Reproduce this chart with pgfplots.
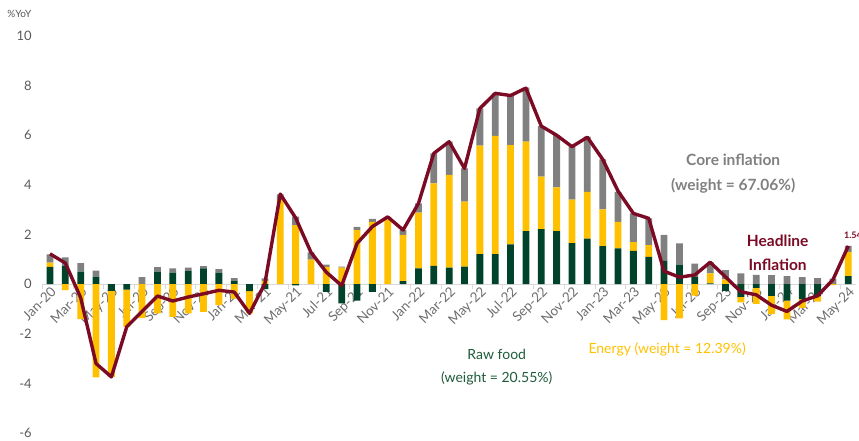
\documentclass[border=0pt]{standalone}
\usepackage{pgfplots}
\pgfplotsset{compat=1.18}
\usepackage{pgfplotstable}
\usepackage{fontspec}
\setmainfont{Lato}
\definecolor{rawc}{HTML}{00432A}
\definecolor{rawt}{HTML}{1E5B3A}
\definecolor{enc}{HTML}{FFC000}
\definecolor{corec}{HTML}{808080}
\definecolor{headc}{HTML}{7B0A24}
\definecolor{txtc}{HTML}{595959}
\definecolor{xtxtc}{HTML}{6E6E6E}
\definecolor{axc}{HTML}{D9D9D9}

\pgfplotstableread{
idx raw energy core head
0 0.70 0.17 0.33 1.22
1 0.75 -0.24 0.33 0.85
2 0.50 -1.41 0.35 -0.55
3 0.28 -3.76 0.26 -3.20
4 -0.27 -3.47 0.00 -3.74
5 -0.22 -1.50 0.00 -1.72
6 0.00 -1.37 0.28 -1.10
7 0.50 -1.18 0.19 -0.48
8 0.46 -1.32 0.17 -0.68
9 0.52 -1.18 0.14 -0.52
10 0.63 -1.12 0.10 -0.39
11 0.46 -0.85 0.14 -0.25
12 0.12 -0.58 0.12 -0.32
13 -0.28 -0.90 0.00 -1.18
14 -0.20 0.13 0.10 0.03
15 0.00 3.40 0.22 3.63
16 -0.05 2.38 0.34 2.67
17 0.00 0.99 0.29 1.28
18 -0.31 0.70 0.09 0.48
19 -0.78 0.66 0.05 -0.06
20 -0.67 2.18 0.13 1.64
21 -0.31 2.51 0.12 2.32
22 0.00 2.61 0.10 2.71
23 0.12 1.86 0.20 2.18
24 0.63 2.25 0.37 3.25
25 0.74 3.32 1.21 5.27
26 0.66 3.74 1.34 5.74
27 0.71 2.61 1.34 4.66
28 1.21 4.37 1.50 7.08
29 1.21 4.76 1.72 7.69
30 1.60 4.00 1.98 7.60
31 2.14 3.60 2.18 7.90
32 2.22 2.11 2.04 6.37
33 2.14 1.76 2.10 6.00
34 1.65 1.76 2.13 5.54
35 1.83 1.89 2.22 5.92
36 1.53 1.48 2.02 5.03
37 1.44 1.07 1.21 3.75
38 1.34 0.35 1.16 2.85
39 1.10 0.47 1.08 2.65
40 0.94 -1.45 1.04 0.52
41 0.79 -1.38 0.85 0.28
42 0.29 -0.46 0.54 0.37
43 0.03 0.40 0.45 0.88
44 -0.27 0.19 0.37 0.29
45 -0.51 -0.23 0.43 -0.31
46 -0.15 -0.65 0.37 -0.43
47 -0.47 -0.74 0.36 -0.85
48 -0.67 -0.75 0.32 -1.10
49 -0.60 -0.36 0.28 -0.68
50 -0.48 -0.23 0.24 -0.47
51 0.00 -0.04 0.22 0.18
52 0.32 0.98 0.24 1.54
}\datatable

\pgfplotsset{base/.style={scale only axis, width=813.7pt, height=397pt,
  xmin=-0.5, xmax=52.5, ymin=-6, ymax=10, clip=false}}

\begin{document}
\begin{tikzpicture}
% positive parts of the bars, with the axes
\begin{axis}[base, ybar stacked, bar width=6.8pt,
  axis x line=middle, axis y line=left, axis line style={-},
  x axis line style={draw=axc, line width=0.8pt},
  y axis line style={draw=none},
  ytick={-6,-4,...,10}, ytick style={draw=none},
  yticklabel style={font=\fontsize{13}{15}\selectfont, text=txtc, xshift=-7pt},
  /pgf/number format/assume math mode=true,
  xtick={0,2,...,52},
  xticklabels={Jan-20,Mar-20,May-20,Jul-20,Sep-20,Nov-20,Jan-21,Mar-21,May-21,Jul-21,Sep-21,Nov-21,Jan-22,Mar-22,May-22,Jul-22,Sep-22,Nov-22,Jan-23,Mar-23,May-23,Jul-23,Sep-23,Nov-23,Jan-24,Mar-24,May-24},
  xticklabel style={rotate=45, anchor=north east, font=\fontsize{13.5}{15}\selectfont, text=xtxtc, inner sep=1pt},
  major tick length=0pt,
  extra x ticks={-0.5,1.5,...,51.5}, extra x tick labels={},
  extra x tick style={major tick length=5pt, tick align=outside, tick style={draw=axc, line width=0.8pt}},
]
\addplot[fill=rawc, draw=none] table[x=idx, y expr={max(\thisrow{raw},0)}] {\datatable};
\addplot[fill=enc, draw=none] table[x=idx, y expr={max(\thisrow{energy},0)}] {\datatable};
\addplot[fill=corec, draw=none] table[x=idx, y expr={max(\thisrow{core},0)}] {\datatable};
\end{axis}
% negative parts of the bars
\begin{axis}[base, ybar stacked, bar width=6.8pt, hide axis]
\addplot[fill=rawc, draw=none] table[x=idx, y expr={min(\thisrow{raw},0)}] {\datatable};
\addplot[fill=enc, draw=none] table[x=idx, y expr={min(\thisrow{energy},0)}] {\datatable};
\addplot[fill=corec, draw=none] table[x=idx, y expr={min(\thisrow{core},0)}] {\datatable};
\end{axis}
% headline line and annotations
\begin{axis}[base, hide axis]
\addplot[headc, line width=3.4pt, no marks, line join=round] table[x=idx, y=head] {\datatable};
\node[font=\bfseries\fontsize{15.5}{25}\selectfont, text=corec, align=center] at (axis cs:44.5,4.46) {Core inflation\\(weight = 67.06\%)};
\node[font=\bfseries\fontsize{15.5}{24}\selectfont, text=headc, align=center] at (axis cs:47.4,1.25) {Headline\\Inflation};
\node[font=\fontsize{14}{23}\selectfont, text=rawt, align=center] at (axis cs:29.1,-3.33) {Raw food\\(weight = 20.55\%)};
\node[font=\fontsize{14}{16}\selectfont, text=enc] at (axis cs:40.2,-2.62) {Energy (weight = 12.39\%)};
\node[font=\bfseries\fontsize{9}{11}\selectfont, text=headc] at (axis cs:52.3,1.98) {1.54};
\end{axis}
\node[font=\fontsize{10}{12}\selectfont, text=txtc] at (-23pt,419pt) {\%YoY};
\pgfresetboundingbox
\path (-42.3pt,-8pt) rectangle (816.7pt,433pt);
\end{tikzpicture}
\end{document}
